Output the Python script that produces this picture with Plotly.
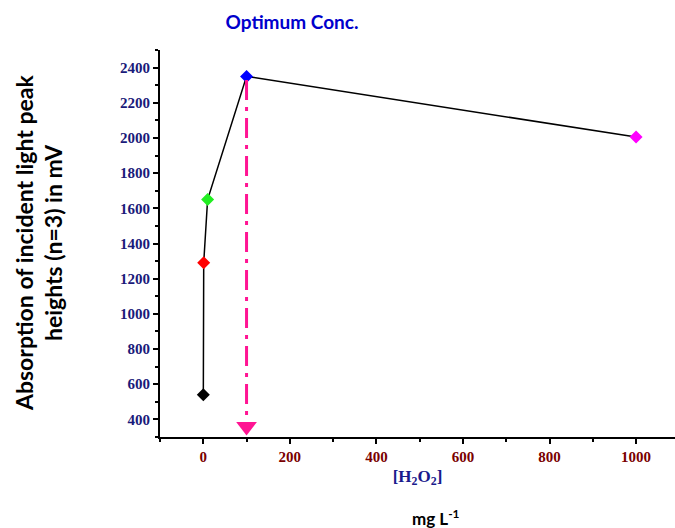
import plotly.graph_objects as go

conc = [0.1, 1, 10, 100, 1000]
signal = [540, 1290, 1650, 2350, 2005]
point_colors = ["#000000", "#ff0000", "#22ee22", "#0000ff", "#ff00ff"]
optimum_x = 100
optimum_y = 2350
x_ticks = [0, 200, 400, 600, 800, 1000]
y_ticks = [400, 600, 800, 1000, 1200, 1400, 1600, 1800, 2000, 2200, 2400]

fig = go.Figure()

# dash-dot arrow shaft
fig.add_shape(type="line", x0=optimum_x, x1=optimum_x, y0=optimum_y - 20, y1=390,
              xref="x", yref="y", line=dict(color="#ff1493", width=3, dash="20px,7px,4px,7px"))

fig.add_trace(go.Scatter(
    x=conc, y=signal, mode="lines+markers",
    line=dict(color="black", width=1.5),
    marker=dict(symbol="diamond", size=10, color=point_colors, line=dict(width=0)),
    showlegend=False, hoverinfo="skip"))

# arrow head
fig.add_trace(go.Scatter(
    x=[optimum_x], y=[360], mode="markers",
    marker=dict(symbol="triangle-down", size=18, color="#ff1493", line=dict(width=0)),
    showlegend=False, hoverinfo="skip"))

W, H = 675, 528
L, R, T, B = 160, 0, 50, 91
PW, PH = W - L - R, H - T - B

fig.update_layout(
    width=W, height=H,
    margin=dict(l=L, r=R, t=T, b=B),
    paper_bgcolor="white", plot_bgcolor="white",
    title=dict(text="<b>Optimum Conc.</b>", x=292 / W, xanchor="center", y=1 - 22 / H, yanchor="middle",
               font=dict(family="Lato", size=19, color="#0000cc")),
    xaxis=dict(range=[-100, 1090], tickvals=x_ticks, showgrid=False, zeroline=False, automargin=False,
               showline=True, linecolor="black", linewidth=2,
               ticks="outside", ticklen=5, tickwidth=2, tickcolor="black",
               minor=dict(dtick=100, tick0=0, ticks="outside", ticklen=3, tickwidth=1.5, tickcolor="black"),
               tickfont=dict(family="Liberation Serif", size=15, color="#7a0000", weight="bold"),
               title=dict(text="<b>[H<sub>2</sub>O<sub>2</sub>]</b>", standoff=6,
                          font=dict(family="Liberation Serif", size=17, color="#1a1a8c"))),
    yaxis=dict(range=[300, 2500], tickvals=y_ticks, showgrid=False, zeroline=False, automargin=False,
               showline=True, linecolor="black", linewidth=2,
               ticks="outside", ticklen=5, tickwidth=2, tickcolor="black",
               minor=dict(dtick=100, tick0=0, ticks="outside", ticklen=3, tickwidth=1.5, tickcolor="black"),
               tickfont=dict(family="Liberation Serif", size=15, color="#1a1a7a", weight="bold")),
)

fig.add_annotation(text="<b>Absorption of incident light peak</b>",
                   xref="paper", yref="paper", x=(24 - L) / PW, y=(H - B - 243) / PH,
                   xanchor="center", yanchor="middle",
                   textangle=-90, showarrow=False,
                   font=dict(family="Lato", size=23, color="black"))
fig.add_annotation(text="<b>heights (n=3) in mV</b>",
                   xref="paper", yref="paper", x=(53 - L) / PW, y=(H - B - 243) / PH,
                   xanchor="center", yanchor="middle",
                   textangle=-90, showarrow=False,
                   font=dict(family="Lato", size=23, color="black"))

fig.add_annotation(text="<b>mg L<sup>-1</sup></b>", xref="paper", yref="paper",
                   x=(436 - L) / PW, y=-(517 - (H - B)) / PH, xanchor="center", yanchor="middle",
                   showarrow=False, font=dict(family="Lato", size=17, color="black"))

fig.write_html("out.html", config={"displayModeBar": False},
               post_script="document.body.style.margin='0';")
